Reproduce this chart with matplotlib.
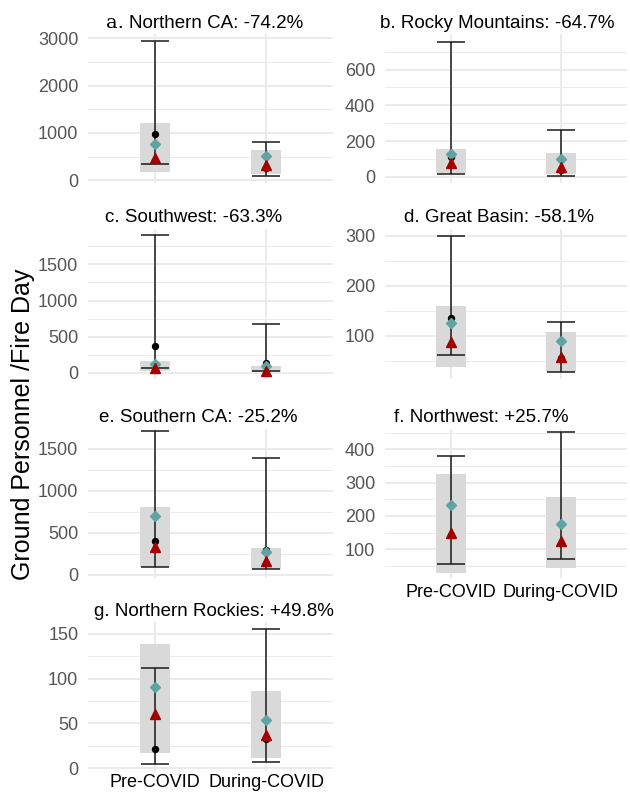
import matplotlib
matplotlib.use('Agg')
import matplotlib.pyplot as plt
from matplotlib.ticker import MultipleLocator

plt.rcParams['font.family'] = ['Liberation Sans', 'DejaVu Sans']

# ---------------- data ----------------
periods = ['Pre-COVID', 'During-COVID']
letters = ['a.', 'b.', 'c.', 'd.', 'e.', 'f.', 'g.']
regions = ['Northern CA', 'Rocky Mountains', 'Southwest', 'Great Basin',
           'Southern CA', 'Northwest', 'Northern Rockies']
changes = ['-74.2%', '-64.7%', '-63.3%', '-58.1%', '-25.2%', '+25.7%', '+49.8%']

# values per region: [Pre-COVID, During-COVID]
shade_lo = [[180, 140], [22, 19], [22, 10], [38, 27], [100, 70], [28, 45], [17, 12]]
shade_hi = [[1215, 630], [154, 136], [161, 92], [160, 108], [808, 320], [326, 256], [139, 86]]
bar_lo = [[343, 85], [15, 4], [69, 22], [62, 27], [100, 76], [55, 72], [5, 7]]
bar_hi = [[2950, 807], [755, 260], [1906, 669], [299, 127], [1708, 1388], [380, 453], [112, 155]]
black_pt = [[985, 250], [111, 37], [369, 138], [135, 55], [400, 296], [143, 176], [22, 33]]
teal_pt = [[770, 515], [126, 99], [125, 92], [125, 90], [696, 268], [232, 176], [91, 54]]
red_pt = [[465, 320], [80, 56], [69, 32], [87, 58], [336, 168], [150, 125], [61, 37]]

major_step = [1000, 200, 500, 100, 500, 100, 50]
ylims = [(-58, 3093), (-34, 799), (-85, 1990), (13, 313), (-36, 1737), (14, 461), (-3, 163)]

# ---------------- layout (pixels) ----------------
W, H = 630, 792
cols = [(88, 333), (385, 627)]
rows = [(34, 183), (229, 379), (429, 578), (622, 771)]
cells = [(0, 0), (0, 1), (1, 0), (1, 1), (2, 0), (2, 1), (3, 0)]
title_cx = [204.5, 497, 194, 499.5, 198, 481.7, 214]
show_xlabels = [False, False, False, False, False, True, True]
xlabel_pad = [4, 4, 4, 4, 4, 4, 2.5]

fig = plt.figure(figsize=(W / 100, H / 100), dpi=100)
fig.patch.set_facecolor('white')

grid_col = '#EBEBEB'
box_col = '#D9D9D9'
line_col = '#1a1a1a'
teal = '#5FA3A3'
red = '#A30000'

axes = []
for i, (r, c) in enumerate(cells):
    x0, x1 = cols[c]
    t, b = rows[r]
    ax = fig.add_axes([x0 / W, 1 - b / H, (x1 - x0) / W, (b - t) / H])
    axes.append(ax)
    xs = [1, 2]
    for j, x in enumerate(xs):
        lo, hi = shade_lo[i][j], shade_hi[i][j]
        ax.bar(x, hi - lo, bottom=lo, width=0.27, color=box_col, zorder=2, linewidth=0)
        ax.vlines(x, bar_lo[i][j], bar_hi[i][j], color=line_col, lw=1.1, zorder=3)
        ax.hlines([bar_lo[i][j], bar_hi[i][j]], x - 0.125, x + 0.125, color=line_col, lw=1.1, zorder=3)
    ax.plot(xs, black_pt[i], 'o', color='black', ms=4.3, zorder=4, linestyle='none')
    ax.plot(xs, teal_pt[i], 'D', color=teal, ms=4.6, zorder=5, linestyle='none')
    ax.plot(xs, red_pt[i], '^', color=red, ms=7, zorder=6, linestyle='none')

    ax.set_xlim(0.4, 2.6)
    ax.set_ylim(*ylims[i])
    ax.set_xticks(xs)
    if show_xlabels[i]:
        ax.set_xticklabels(periods, fontsize=13, color='black')
    else:
        ax.set_xticklabels([])
    ax.yaxis.set_major_locator(MultipleLocator(major_step[i]))
    ax.yaxis.set_minor_locator(MultipleLocator(major_step[i] / 2))
    ax.tick_params(axis='both', which='both', length=0)
    ax.tick_params(axis='y', labelsize=13, labelcolor='#555555', pad=7)
    ax.tick_params(axis='x', pad=xlabel_pad[i])
    ax.grid(True, which='major', axis='both', color=grid_col, lw=1.4, zorder=0)
    ax.grid(True, which='minor', axis='y', color=grid_col, lw=0.7, zorder=0)
    ax.set_axisbelow(True)
    for s in ax.spines.values():
        s.set_visible(False)
    ax.set_facecolor('white')

# ---------------- titles ----------------
renderer = fig.canvas.get_renderer()
for i, (r, c) in enumerate(cells):
    base = rows[r][0] - 6.5
    cx = title_cx[i]
    if i == 0:
        t1 = fig.text(0, 0, letters[i], family='DejaVu Serif', fontsize=14, va='baseline', ha='left')
        t2 = fig.text(0, 0, f'{regions[i]}: {changes[i]}', fontsize=13.5, va='baseline', ha='left')
        w1 = t1.get_window_extent(renderer).width
        w2 = t2.get_window_extent(renderer).width
        gap = 5
        start = cx - (w1 + gap + w2) / 2
        t1.set_position((start / W, 1 - base / H))
        t2.set_position(((start + w1 + gap) / W, 1 - base / H))
    else:
        fig.text(cx / W, 1 - base / H, f'{letters[i]} {regions[i]}: {changes[i]}',
                 fontsize=13.5, va='baseline', ha='center')

fig.text(23 / W, 1 - 424 / H, 'Ground Personnel /Fire Day', rotation=90,
         fontsize=18, va='center', ha='center')

fig.savefig('out.png', dpi=100, facecolor='white')
